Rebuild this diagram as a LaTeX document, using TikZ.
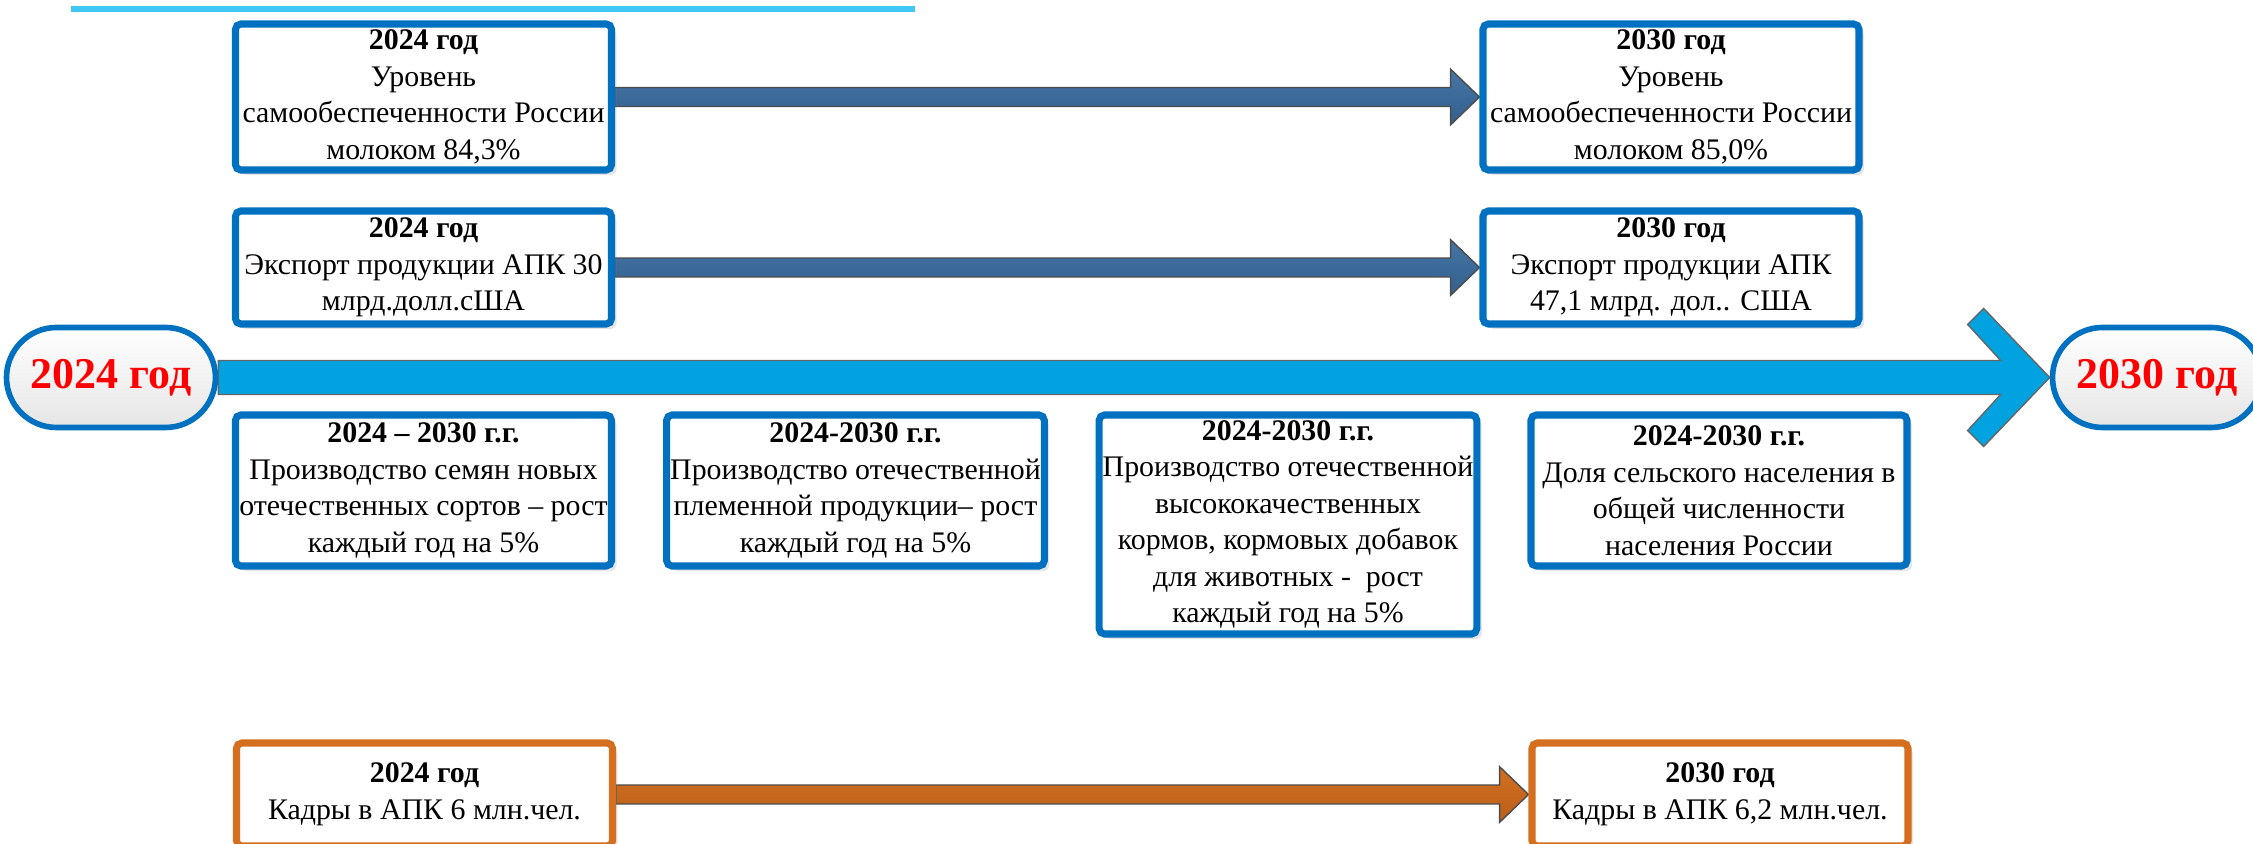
\documentclass[tikz,border=0pt]{standalone}
\usepackage{fontspec}
\setmainfont{Liberation Serif}
\usetikzlibrary{calc}
\usetikzlibrary{shadows}
\usetikzlibrary{backgrounds}

\definecolor{boxblue}{HTML}{0070C0}
\definecolor{linecyan}{HTML}{40C8F5}
\definecolor{steeltop}{HTML}{4576A6}
\definecolor{steelbot}{HTML}{335F8C}
\definecolor{timeblue}{HTML}{00A3DF}
\definecolor{kadry}{HTML}{D46F1F}
\definecolor{kadrytop}{HTML}{D0701F}
\definecolor{kadrybot}{HTML}{BC5E1A}

\tikzset{
  goal/.style={draw=boxblue, line width=2pt, fill=white, rounded corners=1.5pt,
    minimum width=3.76cm, inner xsep=1pt, inner ysep=0pt, align=center, anchor=north,
    font=\fontsize{8.5}{10.4}\selectfont,
    drop shadow={shadow xshift=0.05cm, shadow yshift=-0.05cm, opacity=0.2}},
  goalorange/.style={goal, draw=kadry},
  year/.style={draw=boxblue, line width=1.6pt, rounded corners=0.5cm,
    minimum width=2.09cm, minimum height=1.0cm, top color=white, bottom color=black!10,
    text=red, font=\fontsize{12.5}{14}\selectfont\bfseries},
  blockarrow/.style={draw=black!70, line width=0.4pt,
    to path={let \p1=(\tikztostart), \p2=(\tikztotarget) in
      (\x1,\y1+2.7pt) -- (\x2-8.2pt,\y1+2.7pt) -- (\x2-8.2pt,\y1+7.9pt) -- (\x2,\y1)
      -- (\x2-8.2pt,\y1-7.9pt) -- (\x2-8.2pt,\y1-2.7pt) -- (\x1,\y1-2.7pt) -- cycle}},
}

\begin{document}
\begin{tikzpicture}

    \useasboundingbox (0,0) rectangle (22.53,-8.44);
    \clip (0,0) rectangle (22.53,-8.44);

    % the line on top
    \draw[linecyan, line width=0.06cm] (0.71,-0.09) -- (9.15,-0.09);

    % the two years
    \node[year] (y2024) at (1.11,-3.775) {2024 год};
    \node[year] (y2030) at (21.57,-3.775) {2030 год};

    % milk
    \node[goal, minimum height=1.46cm] (milk24) at (4.235,-0.205)
      {\textbf{2024 год}\\Уровень\\самообеспеченности России\\молоком 84,3\%};
    \node[goal, minimum height=1.46cm] (milk30) at (16.71,-0.205)
      {\textbf{2030 год}\\Уровень\\самообеспеченности России\\молоком 85,0\%};

    % export
    \node[goal, minimum height=1.13cm] (exp24) at (4.235,-2.075)
      {\textbf{2024 год}\\Экспорт продукции АПК 30\\млрд.долл.сША};
    \node[goal, minimum height=1.13cm] (exp30) at (16.71,-2.075)
      {\textbf{2030 год}\\Экспорт продукции АПК\\47,1 млрд. дол.. США};

    % under the time line
    \node[goal, minimum height=1.51cm] (seeds) at (4.235,-4.115)
      {\textbf{2024 – 2030 г.г.}\\Производство семян новых\\отечественных сортов – рост\\каждый год на 5\%};
    \node[goal, minimum height=1.51cm] (breed) at (8.555,-4.115)
      {\textbf{2024-2030 г.г.}\\Производство отечественной\\племенной продукции– рост\\каждый год на 5\%};
    \node[goal, minimum height=2.19cm] (feed) at (12.88,-4.115)
      {\textbf{2024-2030 г.г.}\\Производство отечественной\\высококачественных\\кормов, кормовых добавок\\для животных - \ рост\\каждый год на 5\%};
    \node[goal, minimum height=1.51cm] (rural) at (17.19,-4.115)
      {\textbf{2024-2030 г.г.}\\Доля сельского населения в\\общей численности\\населения России};

    % staff
    \node[goalorange, minimum height=1.03cm] (staff24) at (4.245,-7.395)
      {\textbf{2024 год}\\Кадры в АПК 6 млн.чел.};
    \node[goalorange, minimum height=1.03cm] (staff30) at (17.20,-7.395)
      {\textbf{2030 год}\\Кадры в АПК 6,2 млн.чел.};

    \begin{pgfonlayer}{background}
      % the time line
      \draw[draw=black!60, line width=0.4pt, fill=timeblue]
        ($(y2024.east)+(0,0.17)$) -- ($(y2030.west)+(-0.49,0.17)$)
        -- ($(y2030.west)+(-0.82,0.53)$) -- ($(y2030.west)+(-0.66,0.69)$)
        -- (y2030.west)
        -- ($(y2030.west)+(-0.66,-0.69)$) -- ($(y2030.west)+(-0.82,-0.53)$)
        -- ($(y2030.west)+(-0.49,-0.17)$) -- ($(y2024.east)+(0,-0.17)$) -- cycle;

      % arrows between the years
      \draw[blockarrow, top color=steeltop, bottom color=steelbot] (milk24.east) to (milk30.west);
      \draw[blockarrow, top color=steeltop, bottom color=steelbot] (exp24.east) to (exp30.west);
      \draw[blockarrow, top color=kadrytop, bottom color=kadrybot] (staff24.east) to (staff30.west);
    \end{pgfonlayer}

\end{tikzpicture}
\end{document}
